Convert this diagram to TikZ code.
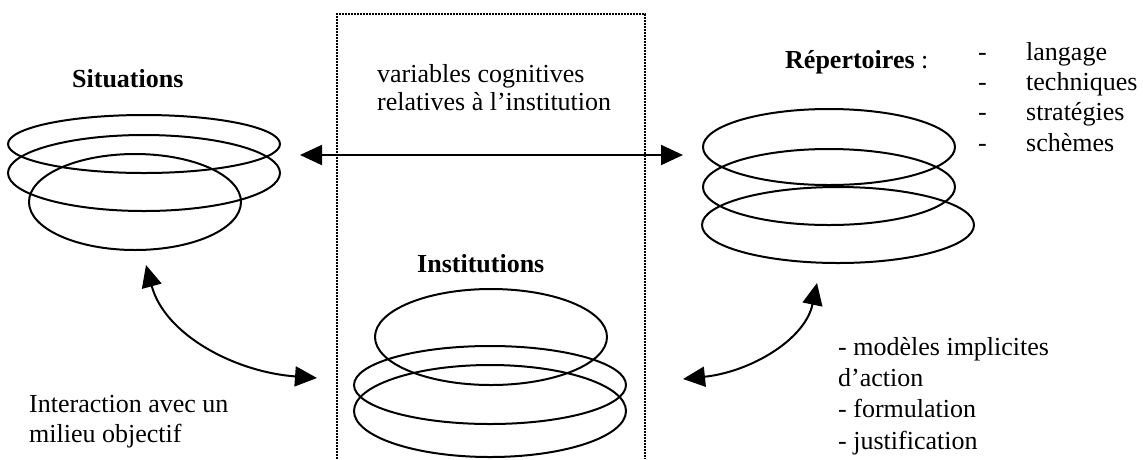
\documentclass[tikz,border=0pt]{standalone}
\usepackage{fontspec}
\setmainfont{Liberation Serif}
\usetikzlibrary{arrows.meta}
\tikzset{
  ring/.style={line width=2pt},
  link/.style={line width=2pt,{Triangle[length=22pt,width=20pt]}-{Triangle[length=22pt,width=20pt]}},
  txt/.style={inner sep=0pt,anchor=base west,font=\fontsize{26}{30}\selectfont},
  btxt/.style={txt,font=\fontsize{26}{30}\selectfont\bfseries},
  frame/.style={line width=1.6pt,dash pattern=on 1.6pt off 1.4pt}
}
\begin{document}
\begin{tikzpicture}[x=1pt,y=-1pt]
\useasboundingbox (0,0) rectangle (1143,459);
% dotted frame
\draw[frame] (337,459) -- (337,14) -- (645,14) -- (645,459);
% Situations
\node[btxt] (sit) at (72,87) {Situations};
\draw[ring] (144,144) ellipse (136 and 29);
\draw[ring] (144,173) ellipse (136 and 38);
\draw[ring] (135,202) ellipse (106 and 48);
% Repertoires
\node[txt] (rep) at (785,68) {\textbf{Répertoires} :};
\foreach \y/\t [count=\i] in {60/langage,90/techniques,120/stratégies,151/schèmes}{
  \node[txt] (d\i) at (978,\y) {-};
  \node[txt] (r\i) at (1026,\y) {\t};
}
\draw[ring] (829,147) ellipse (126 and 38);
\draw[ring] (829,187) ellipse (126 and 38);
\draw[ring] (838,225) ellipse (136 and 38);
% central text
\node[txt] (var1) at (377,82) {variables cognitives};
\node[txt] (var2) at (377,110) {relatives à l’institution};
% Institutions
\node[btxt] (inst) at (417,272) {Institutions};
\draw[ring] (491,337) ellipse (116 and 48);
\draw[ring] (490,385) ellipse (136 and 39);
\draw[ring] (490,411) ellipse (136 and 46);
% lower texts
\node[txt] (int1) at (29,412) {Interaction avec un};
\node[txt] (int2) at (29,442) {milieu objectif};
\node[txt] (m1) at (838,355) {- modèles implicites};
\node[txt] (m2) at (838,386) {d’action};
\node[txt] (m3) at (838,417) {- formulation};
\node[txt] (m4) at (838,449) {- justification};
% arrows
\coordinate (hl) at (300,155);
\coordinate (hr) at (683,155);
\coordinate (la) at (146,265);
\coordinate (lb) at (317,378);
\coordinate (ra) at (817,283);
\coordinate (rb) at (683,379);
\draw[link] (hl) -- (hr);
\draw[link] (la) .. controls (165,335) and (235,372) .. (lb);
\draw[link] (rb) .. controls (750,372) and (805,340) .. (ra);
\end{tikzpicture}
\end{document}
